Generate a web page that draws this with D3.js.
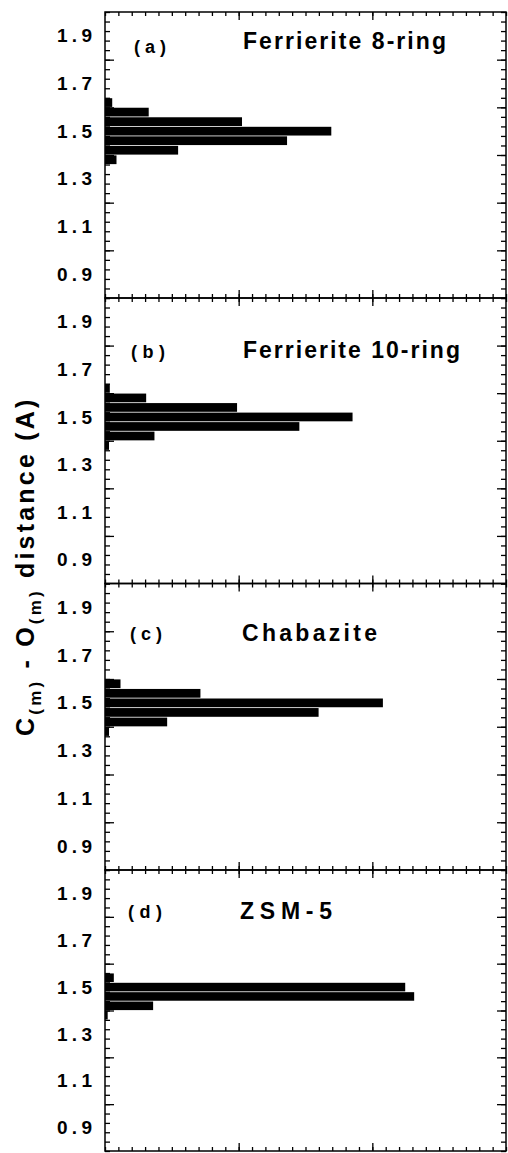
<!DOCTYPE html>
<html>
<head>
<meta charset="utf-8">
<script src="https://cdn.jsdelivr.net/npm/d3@7"></script>
<style>
  body { margin: 0; background: #fff; }
  svg { display: block; font-family: "Liberation Sans", Arial, sans-serif; font-weight: bold; }
</style>
</head>
<body>
<div id="chart"></div>
<script>
/* data: histogram of C(m)-O(m) distances, 0.04 A bins */
const panelTags   = ["(a)", "(b)", "(c)", "(d)"];
const panelTitles = ["Ferrierite 8-ring", "Ferrierite 10-ring", "Chabazite", "ZSM-5"];
const binStarts   = [1.36, 1.40, 1.44, 1.48, 1.52, 1.56, 1.60];
const binWidth    = 0.04;
const countsA = [0.86, 5.47, 13.62, 16.93, 10.25, 3.27, 0.54];
const countsB = [0.30, 3.70, 14.54, 18.52,  9.88, 3.08, 0.36];
const countsC = [0.30, 4.65, 15.98, 20.79,  7.14, 1.16, 0.00];
const countsD = [0.20, 3.60, 23.13, 22.46,  0.66, 0.00, 0.00];
const yTickLabels = [0.9, 1.1, 1.3, 1.5, 1.7, 1.9];
const yMajorTicks = [1.0, 1.2, 1.4, 1.6, 1.8];
const xMajorTicks = [10, 20];

const allCounts = [countsA, countsB, countsC, countsD];

const width = 508, height = 1153;
const left = 105, right = 506;
const panelEdges = [12, 298, 583.5, 870, 1151];

// label placement (x start, width, centre y) for tag and title in each panel
const tagPos   = [[134, 32, 46], [131, 34, 351], [130, 32, 633], [128, 34, 911]];
const titlePos = [[243, 203, 41], [243, 217, 350], [242, 135, 633], [240, 92, 911]];

const svg = d3.select("#chart").append("svg")
  .attr("width", width)
  .attr("height", height);

const x = d3.scaleLinear().domain([0, 30]).range([left, right]);
const xMinor = d3.range(0, 31);
const yMinor = d3.range(0, 31).map(k => +(0.8 + k * 0.04).toFixed(2));

function ticks(g, axis, vals, size, tx, ty) {
  g.append("g")
    .attr("transform", `translate(${tx},${ty})`)
    .call(axis.tickValues(vals).tickSize(size).tickSizeOuter(0).tickFormat(""))
    .call(s => s.select(".domain").remove())
    .selectAll("line").attr("stroke-width", 1.3);
}

allCounts.forEach((counts, i) => {
  const top = panelEdges[i], bottom = panelEdges[i + 1];
  const y = d3.scaleLinear().domain([0.8, 2.0]).range([bottom, top]);
  const g = svg.append("g");

  const bins = binStarts.map((b, j) => ({ b, v: counts[j] })).filter(d => d.v > 0);

  g.selectAll("rect.bar")
    .data(bins)
    .join("rect")
      .attr("class", "bar")
      .attr("x", x(0))
      .attr("y", d => y(d.b + binWidth) + 0.4)
      .attr("width", d => x(d.v) - x(0))
      .attr("height", d => y(d.b) - y(d.b + binWidth) - 0.8)
      .attr("fill", "#000");

  // inward ticks on all four sides
  ticks(g, d3.axisLeft(y),   yMinor, -5, left, 0);
  ticks(g, d3.axisLeft(y),   yMajorTicks, -9, left, 0);
  ticks(g, d3.axisRight(y),  yMinor, -5, right, 0);
  ticks(g, d3.axisRight(y),  yMajorTicks, -9, right, 0);
  ticks(g, d3.axisTop(x),    xMinor, -4, 0, top);
  ticks(g, d3.axisTop(x),    xMajorTicks, -8, 0, top);
  ticks(g, d3.axisBottom(x), xMinor, -4, 0, bottom);
  ticks(g, d3.axisBottom(x), xMajorTicks, -8, 0, bottom);

  // tick labels
  g.append("g")
    .attr("transform", `translate(${left},0)`)
    .call(d3.axisLeft(y).tickValues(yTickLabels).tickSize(0).tickPadding(13).tickFormat(d3.format(".1f")))
    .call(s => s.select(".domain").remove())
    .attr("font-size", 19)
    .attr("font-family", null)
    .selectAll("text")
      .attr("fill", "#000")
      .attr("textLength", 35)
      .attr("lengthAdjust", "spacing");

  g.append("rect")
    .attr("x", left).attr("y", top)
    .attr("width", right - left).attr("height", bottom - top)
    .attr("fill", "none").attr("stroke", "#000").attr("stroke-width", 1.5);

  const [tx, tw, ty] = tagPos[i];
  g.append("text")
    .attr("x", tx).attr("y", ty + 6.5)
    .attr("font-size", 18)
    .attr("textLength", tw).attr("lengthAdjust", "spacing")
    .text(panelTags[i]);

  const [hx, hw, hy] = titlePos[i];
  g.append("text")
    .attr("x", hx).attr("y", hy + 8)
    .attr("font-size", 23)
    .attr("textLength", hw).attr("lengthAdjust", "spacing")
    .text(panelTitles[i]);
});

// rotated y-axis title with subscripts
const ylab = svg.append("text")
  .attr("transform", "translate(34,736) rotate(-90)")
  .attr("font-size", 25)
  .attr("letter-spacing", 3.2);
ylab.append("tspan").text("C");
ylab.append("tspan").attr("font-size", 17).attr("dy", 7).text("(m)");
ylab.append("tspan").attr("dy", -7).text(" - O");
ylab.append("tspan").attr("font-size", 17).attr("dy", 7).text("(m)");
ylab.append("tspan").attr("dy", -7).text(" distance (A)");
</script>
</body>
</html>
